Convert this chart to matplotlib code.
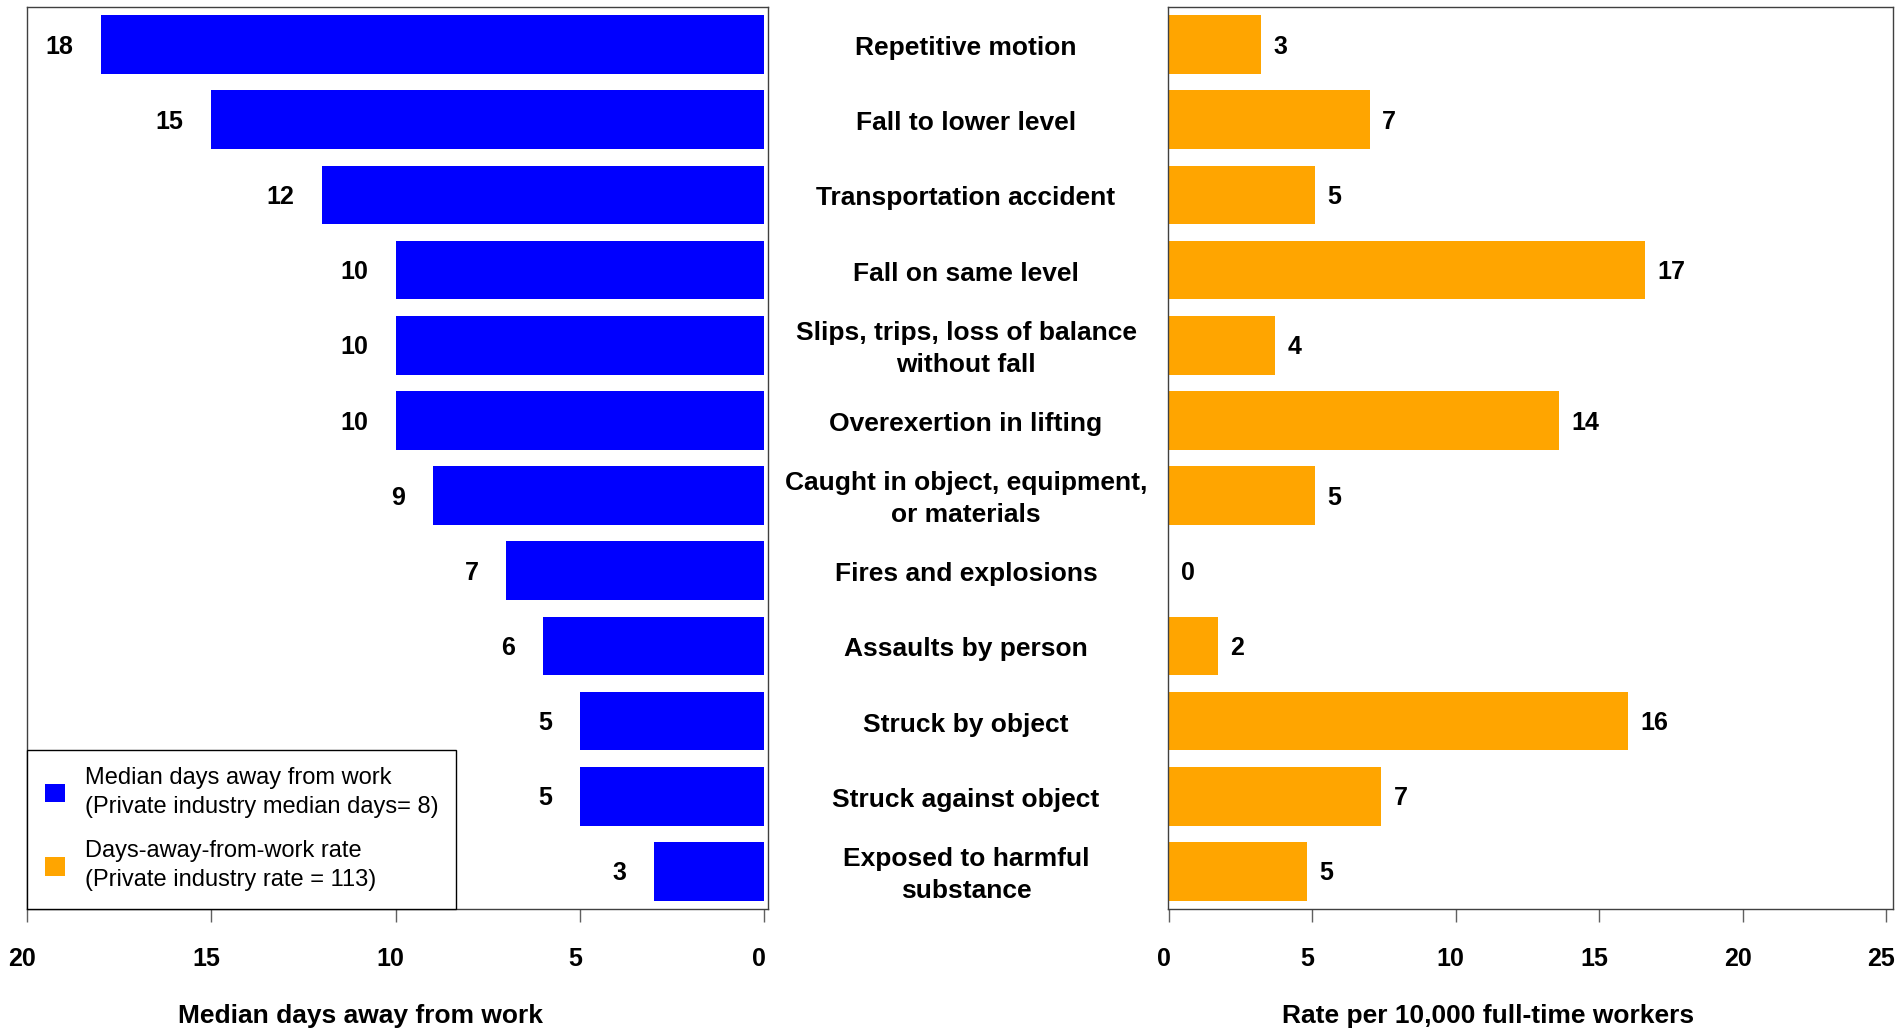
import matplotlib
matplotlib.use("Agg")
import matplotlib.pyplot as plt
from matplotlib.patches import Patch
from matplotlib.transforms import blended_transform_factory, ScaledTranslation

plt.rcParams["font.family"] = ["Liberation Sans", "DejaVu Sans"]

# ── data (top row first) ─────────────────────────────────────────────
categories = [
    "Repetitive motion",
    "Fall to lower level",
    "Transportation accident",
    "Fall on same level",
    "Slips, trips, loss of balance\nwithout fall",
    "Overexertion in lifting",
    "Caught in object, equipment,\nor materials",
    "Fires and explosions",
    "Assaults by person",
    "Struck by object",
    "Struck against object",
    "Exposed to harmful\nsubstance",
]
median_days = [18, 15, 12, 10, 10, 10, 9, 7, 6, 5, 5, 3]
rate = [3.2, 7.0, 5.1, 16.6, 3.7, 13.6, 5.1, 0.0, 1.7, 16.0, 7.4, 4.8]

left_ticks = [20, 15, 10, 5, 0]
right_ticks = [0, 5, 10, 15, 20, 25]

legend_labels = ["Median days away from work\n(Private industry median days= 8)",
                 "Days-away-from-work rate\n(Private industry rate = 113)"]

BLUE = "#0000FF"
ORANGE = "#FFA500"

W, H = 1901, 1030
fig = plt.figure(figsize=(W / 100, H / 100), dpi=100)

def px_axes(x0, y0, x1, y1):
    return fig.add_axes([x0 / W, 1 - y1 / H, (x1 - x0) / W, (y1 - y0) / H])

ax_l = px_axes(27, 7, 768, 909)
ax_r = px_axes(1168, 7, 1893, 909)

ypos = list(range(len(categories)))

ax_l.barh(ypos, median_days, height=0.78, color=BLUE)
ax_r.barh(ypos, rate, height=0.78, color=ORANGE)

ax_l.set_xlim(20, -0.1)
ax_l.set_xticks(left_ticks)
ax_l.set_xticklabels([str(t) for t in left_ticks])
ax_r.set_xlim(-0.03, 25.24)
ax_r.set_xticks(right_ticks)
ax_r.set_xticklabels([str(t) for t in right_ticks])

shift = ScaledTranslation(-5 / 100, 0, fig.dpi_scale_trans)
for ax in (ax_l, ax_r):
    ax.set_ylim(len(categories) - 0.5, -0.5)
    ax.set_yticks([])
    for s in ax.spines.values():
        s.set_color("#404040")
        s.set_linewidth(1.0)
    ax.tick_params(axis="x", direction="out", length=9, width=1,
                   color="#606060", pad=18, labelsize=18)
    for lbl in ax.get_xticklabels():
        lbl.set_fontweight("bold")
        lbl.set_transform(lbl.get_transform() + shift)

# value labels
for y, v in zip(ypos, median_days):
    ax_l.annotate(f"{v:.0f}", (v, y), xytext=(-20, -1.5), textcoords="offset points",
                  ha="right", va="center", fontsize=18, fontweight="bold")
for y, v in zip(ypos, rate):
    ax_r.annotate(f"{v:.0f}", (v, y), xytext=(9, -1.5), textcoords="offset points",
                  ha="left", va="center", fontsize=18, fontweight="bold")

# category labels in the gap between the panels (nudged down a touch)
down = ScaledTranslation(0, -3.5 / 100, fig.dpi_scale_trans)
trans = blended_transform_factory(fig.transFigure, ax_l.transData) + down
for y, c in zip(ypos, categories):
    fig.text(966 / W, y, c, transform=trans, ha="center", va="center",
             fontsize=19, fontweight="bold", linespacing=1.4)

# axis titles
fig.text(360 / W, 1 - 1016 / H, "Median days away from work",
         ha="center", va="center", fontsize=19, fontweight="bold")
fig.text(1488 / W, 1 - 1016 / H, "Rate per 10,000 full-time workers",
         ha="center", va="center", fontsize=19, fontweight="bold")

handles = [Patch(facecolor=BLUE, edgecolor="none"),
           Patch(facecolor=ORANGE, edgecolor="none")]
leg = ax_l.legend(handles, legend_labels, loc="lower left", bbox_to_anchor=(0, 0),
                  borderaxespad=0, fancybox=False, framealpha=1, edgecolor="black",
                  fontsize=17, handlelength=0.85, handleheight=0.85,
                  handletextpad=0.85, labelspacing=0.95, borderpad=0.75)
leg.get_frame().set_linewidth(1.0)
for t in leg.get_texts():
    t.set_linespacing(1.4)

fig.savefig("out.png", dpi=100)
